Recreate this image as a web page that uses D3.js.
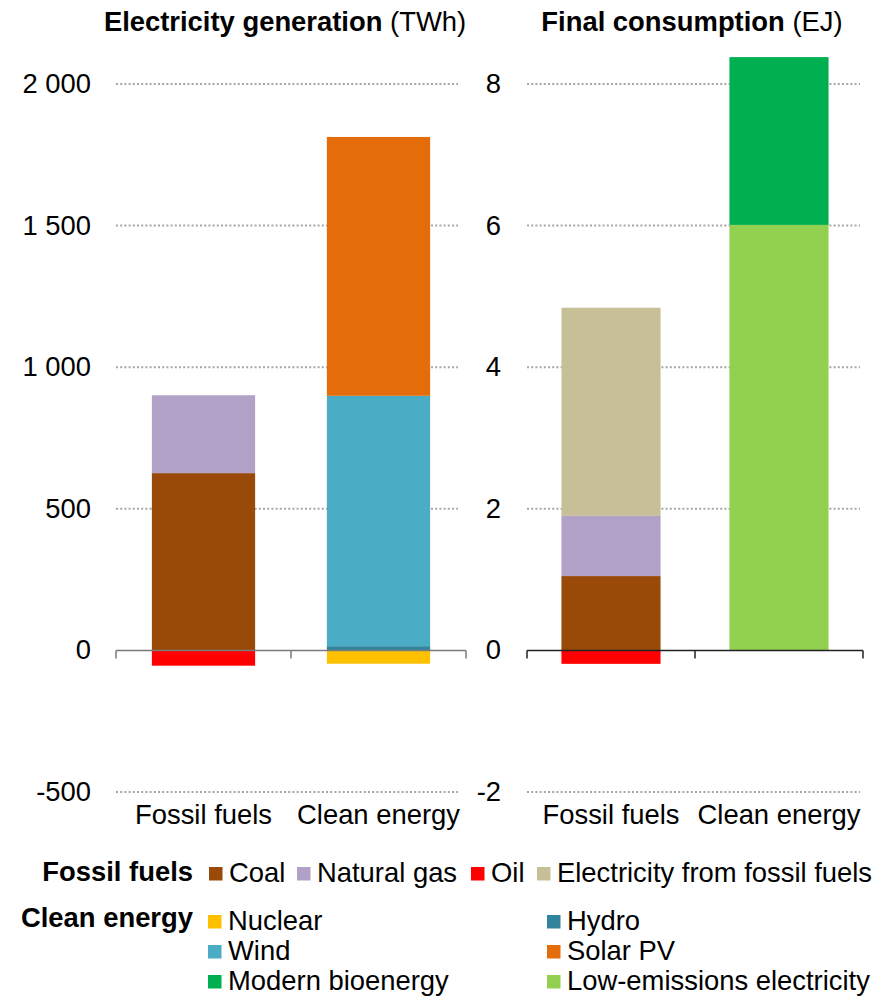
<!DOCTYPE html>
<html>
<head>
<meta charset="utf-8">
<script src="https://cdn.jsdelivr.net/npm/d3@7"></script>
<style>
  html, body { margin: 0; padding: 0; background: #fff; }
  svg { display: block; font-family: "Liberation Sans", Arial, sans-serif; }
</style>
</head>
<body>
<svg id="chart" width="888" height="996"></svg>
<script>
// ---------- DATA ----------
const categories = ["Fossil fuels", "Clean energy"];

// Electricity generation (TWh)
const elecSeries = ["Coal", "Natural gas", "Oil", "Nuclear", "Hydro", "Wind", "Solar PV"];
const elecCoal    = [626, 0];
const elecGas     = [275, 0];
const elecOil     = [-54, 0];
const elecNuclear = [0, -47];
const elecHydro   = [0, 15];
const elecWind    = [0, 884];
const elecSolar   = [0, 914];
const elecTicks   = [-500, 0, 500, 1000, 1500, 2000];
const elecTickLabels = ["-500", "0", "500", "1 000", "1 500", "2 000"];

// Final consumption (EJ)
const consSeries = ["Coal", "Natural gas", "Oil", "Electricity from fossil fuels", "Low-emissions electricity", "Modern bioenergy"];
const consCoal      = [1.05, 0];
const consGas       = [0.85, 0];
const consOil       = [-0.19, 0];
const consElecFossil= [2.94, 0];
const consLowEm     = [0, 6.01];
const consBio       = [0, 2.37];
const consTicks     = [-2, 0, 2, 4, 6, 8];
const consTickLabels = ["-2", "0", "2", "4", "6", "8"];

const colors = {
  "Coal": "#994A08",
  "Natural gas": "#B2A1C7",
  "Oil": "#FF0000",
  "Electricity from fossil fuels": "#C7BF98",
  "Nuclear": "#FFC000",
  "Hydro": "#31849B",
  "Wind": "#4BACC6",
  "Solar PV": "#E46C0A",
  "Modern bioenergy": "#00B050",
  "Low-emissions electricity": "#92D050"
};

const elecValues = {
  "Coal": elecCoal, "Natural gas": elecGas, "Oil": elecOil, "Nuclear": elecNuclear,
  "Hydro": elecHydro, "Wind": elecWind, "Solar PV": elecSolar
};
const consValues = {
  "Coal": consCoal, "Natural gas": consGas, "Oil": consOil,
  "Electricity from fossil fuels": consElecFossil,
  "Low-emissions electricity": consLowEm, "Modern bioenergy": consBio
};

// ---------- DRAW ----------
const svg = d3.select("#chart");
const FS = 27.4;

function panel(opts) {
  const g = svg.append("g");
  const y = d3.scaleLinear().domain(opts.domain).range([792, 84]);
  const x = d3.scaleBand().domain(categories).range(opts.xr)
    .paddingInner(0.41).paddingOuter(0.205);

  // gridlines (dotted)
  g.selectAll("line.grid").data(opts.ticks.filter(t => t !== 0)).enter()
    .append("line")
    .attr("x1", opts.xr[0]).attr("x2", opts.gridEnd)
    .attr("y1", d => y(d)).attr("y2", d => y(d))
    .attr("stroke", "#a6a6a6").attr("stroke-width", 2)
    .attr("stroke-dasharray", "2,2.2");

  // tick labels
  g.selectAll("text.tick").data(opts.ticks).enter()
    .append("text")
    .attr("x", opts.labelX).attr("y", d => y(d) + 9)
    .attr("text-anchor", "end")
    .attr("font-size", FS).attr("fill", "#000")
    .text((d, i) => opts.tickLabels[i]);

  // stacked bars
  categories.forEach((cat, ci) => {
    let pos = 0, neg = 0;
    opts.series.forEach(s => {
      const v = opts.values[s][ci];
      if (!v) return;
      let y0, y1;
      if (v >= 0) { y0 = pos; y1 = pos + v; pos = y1; }
      else { y0 = neg + v; y1 = neg; neg = y0; }
      g.append("rect")
        .attr("x", x(cat)).attr("width", x.bandwidth())
        .attr("y", y(y1)).attr("height", y(y0) - y(y1))
        .attr("fill", colors[s]);
    });
  });

  // baseline axis with tick marks at band edges
  const y0 = Math.round(y(0)) + 0.5;
  const edges = [opts.xr[0], opts.xr[0] + x.step(), opts.xr[1]];
  const path = d3.path();
  path.moveTo(opts.xr[0], y0); path.lineTo(opts.xr[1], y0);
  edges.forEach(e => { path.moveTo(e, y0); path.lineTo(e, y0 + 8); });
  g.append("path").attr("d", path.toString())
    .attr("stroke", opts.axisColor).attr("stroke-width", 1.5).attr("fill", "none");

  // category labels
  g.selectAll("text.cat").data(categories).enter()
    .append("text")
    .attr("x", d => x(d) + x.bandwidth() / 2).attr("y", 824)
    .attr("text-anchor", "middle").attr("font-size", FS).attr("fill", "#000")
    .text(d => d);

  // title
  const t = g.append("text").attr("x", opts.titleX).attr("y", 31)
    .attr("text-anchor", "middle").attr("font-size", FS).attr("fill", "#000");
  t.append("tspan").attr("font-weight", "bold").text(opts.title);
  t.append("tspan").text(" " + opts.unit);
}

panel({
  domain: [-500, 2000], xr: [116, 466], gridEnd: 458, labelX: 91,
  ticks: elecTicks, tickLabels: elecTickLabels,
  series: ["Coal", "Natural gas", "Oil", "Nuclear", "Hydro", "Wind", "Solar PV"],
  values: elecValues, axisColor: "#7a7a7a",
  title: "Electricity generation", unit: "(TWh)", titleX: 285
});

panel({
  domain: [-2, 8], xr: [527, 863], gridEnd: 860, labelX: 501,
  ticks: consTicks, tickLabels: consTickLabels,
  series: ["Coal", "Natural gas", "Electricity from fossil fuels", "Oil", "Low-emissions electricity", "Modern bioenergy"],
  values: consValues, axisColor: "#222",
  title: "Final consumption", unit: "(EJ)", titleX: 692
});

// ---------- LEGEND ----------
const leg = svg.append("g");
leg.append("text").attr("x", 193).attr("y", 881).attr("text-anchor", "end")
  .attr("font-size", FS).attr("font-weight", "bold").text("Fossil fuels");
leg.append("text").attr("x", 193).attr("y", 927).attr("text-anchor", "end")
  .attr("font-size", FS).attr("font-weight", "bold").text("Clean energy");

const legendFossil = ["Coal", "Natural gas", "Oil", "Electricity from fossil fuels"];
const legendFossilX = [209, 297, 471, 537];
const legendClean = ["Nuclear", "Hydro", "Wind", "Solar PV", "Modern bioenergy", "Low-emissions electricity"];
const cleanX = [208, 547];
const cleanY = [930, 960, 990];

function legItem(name, x, base) {
  leg.append("rect").attr("x", x).attr("y", base - 15).attr("width", 13.5).attr("height", 13.5)
    .attr("fill", colors[name]);
  leg.append("text").attr("x", x + 20).attr("y", base).attr("font-size", FS).attr("fill", "#000").text(name);
}
legendFossil.forEach((n, i) => legItem(n, legendFossilX[i], 882));
legendClean.forEach((n, i) => legItem(n, cleanX[i % 2], cleanY[Math.floor(i / 2)]));
</script>
</body>
</html>
